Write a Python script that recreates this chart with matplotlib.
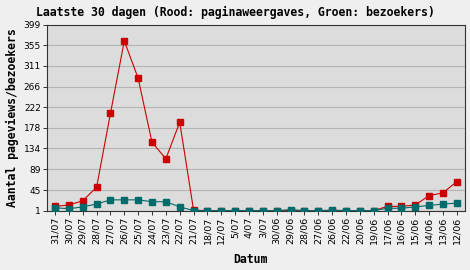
import matplotlib
matplotlib.use("Agg")
import matplotlib.pyplot as plt

# dagen (nieuwste eerst)
dates = ["31/07", "30/07", "29/07", "28/07", "27/07", "26/07", "25/07", "24/07",
         "23/07", "22/07", "21/07", "18/07", "12/07", "5/07", "4/07", "3/07",
         "30/06", "29/06", "28/06", "27/06", "26/06", "22/06", "20/06", "19/06",
         "17/06", "16/06", "15/06", "14/06", "13/06", "12/06"]
pageviews = [10, 13, 22, 51, 209, 364, 284, 147, 112, 190, 2, 1, 1, 1, 1, 1,
             1, 1, 1, 1, 1, 1, 1, 1, 10, 10, 13, 33, 39, 63]
visitors = [7, 5, 9, 15, 24, 24, 24, 20, 20, 9, 1, 1, 1, 1, 1, 1,
            1, 3, 1, 1, 2, 1, 1, 1, 6, 6, 9, 12, 15, 17]
yticks = [1, 45, 89, 134, 178, 222, 266, 311, 355, 399]

mono = "DejaVu Sans Mono"

fig = plt.figure(figsize=(4.7, 2.7), dpi=100)
fig.patch.set_facecolor("#efefef")
ax = fig.add_axes([0.1, 0.22, 0.889, 0.689])
ax.set_facecolor("#dcdcdc")

x = list(range(len(dates)))
ax.plot(x, pageviews, color="#cc0000", lw=0.8, marker="s", ms=3.8,
        mec="#cc0000", mfc="#cc0000", zorder=3)
ax.plot(x, visitors, color="#006b6b", lw=0.8, marker="s", ms=3.8,
        mec="#006b6b", mfc="#006b6b", zorder=4)

ax.set_xlim(-0.58, 29.58)
ax.set_ylim(1, 399)
ax.set_yticks(yticks)
ax.set_yticklabels([str(v) for v in yticks], fontsize=6.5)
ax.set_xticks(x)
ax.set_xticklabels(dates, rotation=90, fontsize=6.8)
ax.tick_params(axis="both", length=3, width=0.7, color="#333333", pad=1.5)
ax.grid(axis="y", color="#b4b4b4", lw=0.8)
ax.set_axisbelow(True)
for s in ax.spines.values():
    s.set_color("#333333")
    s.set_linewidth(0.8)

fig.text(0.5, 0.955, "Laatste 30 dagen (Rood: paginaweergaves, Groen: bezoekers)",
         ha="center", va="center", fontsize=8.3, fontweight="bold", family=mono)
ax.set_ylabel("Aantal pageviews/bezoekers", fontsize=8.3, fontweight="bold",
              family=mono, labelpad=3)
fig.text(0.532, 0.04, "Datum", ha="center", va="center", fontsize=8.3,
         fontweight="bold", family=mono)

fig.savefig("out.png", dpi=100, facecolor=fig.get_facecolor())
